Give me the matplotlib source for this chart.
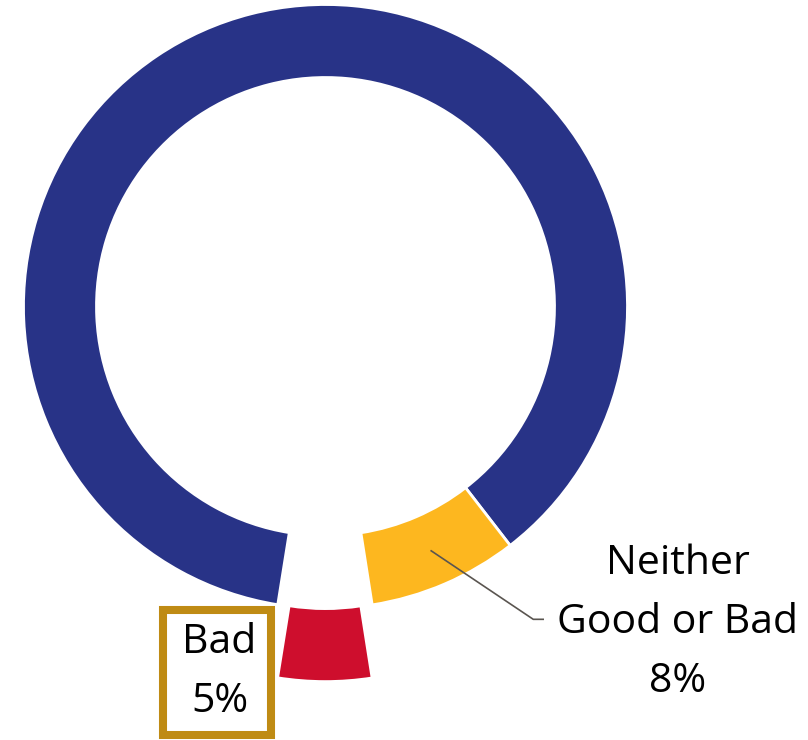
import matplotlib.pyplot as plt
import numpy as np
from matplotlib.patches import Rectangle

# Data
categories = ['Good', 'Neither\nGood or Bad', 'Bad']
shares = [87, 8, 5]
colors = ['#283387', '#FDB71F', '#CE0E2D']
explode = [0, 0, 0.242]

plt.rcParams['font.family'] = ['Open Sans', 'DejaVu Sans']

fig = plt.figure(figsize=(8.08, 7.40), dpi=100)
ax = fig.add_axes([0, 0, 1, 1])

wedges, _ = ax.pie(shares, colors=colors, explode=explode, startangle=-99.1,
                   counterclock=False, radius=1,
                   wedgeprops=dict(width=0.2417, edgecolor='white', linewidth=2))

# Keep the ring where it sits in the original (1 unit = 302 px)
ax.set_xlim(-1.0778, 1.5977)
ax.set_ylim(-1.4354, 1.0149)
ax.set_aspect('equal')
ax.axis('off')

# Label for the yellow slice, with a leader line
w = wedges[1]
mid = np.deg2rad((w.theta1 + w.theta2) / 2)
rmid = 1 - 0.2417 / 2
ax.plot([rmid * np.cos(mid), 0.688, 0.7235],
        [rmid * np.sin(mid), -1.0358, -1.0358],
        color='#5a5550', lw=1.2, solid_capstyle='butt')
# va='baseline' -> y is the baseline of the last line
ax.text(1.1656, -1.2755, '%s\n%d%%' % (categories[1], shares[1]),
        ha='center', va='baseline', fontsize=29.5, linespacing=1.6)

# Boxed label for the red slice
ax.add_patch(Rectangle((-0.537, -1.418), 0.3566, 0.413, facecolor='white',
                       edgecolor='#BF8B14', lw=5.8, clip_on=False))
ax.text(-0.351, -1.3417, '%s\n%d%%' % (categories[2], shares[2]),
        ha='center', va='baseline', fontsize=29.5, linespacing=1.6)

fig.savefig('out.png', dpi=100)
